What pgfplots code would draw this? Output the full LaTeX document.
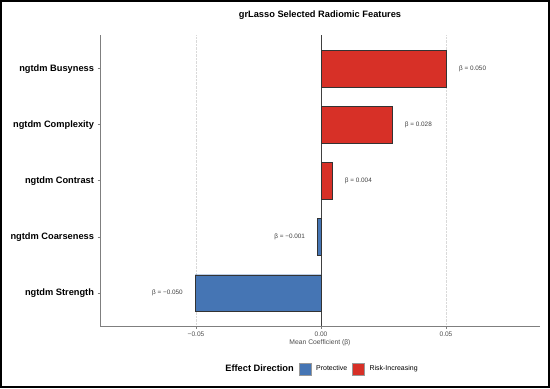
\documentclass[border=0pt]{standalone}
\usepackage{fontspec}
\setmainfont{Liberation Sans}
\usepackage{pgfplots}
\pgfplotsset{compat=1.18}
\definecolor{riskred}{HTML}{D73027}
\definecolor{protblue}{HTML}{4575B4}
\definecolor{axgray}{HTML}{7F7F7F}
\definecolor{txtgray}{HTML}{4D4D4D}
\begin{document}
\begin{tikzpicture}[x=1bp,y=1bp]
\useasboundingbox (0,0) rectangle (550,388);
\draw[line width=1.6bp] (0.8,0.8) rectangle (549.2,387.2);
\node[font=\fontsize{9.3}{10}\selectfont\bfseries] at (320,373) {grLasso Selected Radiomic Features};
\begin{axis}[
  at={(100bp,62bp)}, anchor=south west,
  scale only axis, width=440bp, height=291bp,
  xmin=-0.0884, xmax=0.0876,
  ymin=-0.59, ymax=4.6,
  axis x line*=bottom, axis y line*=left,
  axis line style={axgray, line width=0.8bp, -},
  scaled x ticks=false,
  xtick={-0.05,0,0.05},
  xticklabels={−0.05,0.00,0.05},
  ytick={0,1,2,3,4},
  yticklabels={ngtdm Strength,ngtdm Coarseness,ngtdm Contrast,ngtdm Complexity,ngtdm Busyness},
  xticklabel style={font=\fontsize{6.6}{7}\selectfont, text=txtgray},
  yticklabel style={font=\fontsize{9.3}{10}\selectfont\bfseries, text=black},
  tick align=outside, major tick length=2.5bp,
  tick style={axgray, line width=0.6bp},
  xmajorgrids, grid style={densely dotted, black!15, line width=0.5bp},
  xlabel={Mean Coefficient (β)},
  xlabel style={font=\fontsize{6.8}{7}\selectfont, text=txtgray, yshift=4bp},
  xbar, bar width=0.65, bar shift=0pt,
  legend columns=-1,
  legend style={draw=none, at={(0.5,-0.148)}, anchor=center,
    font=\fontsize{7}{8}\selectfont,
    /tikz/every even column/.append style={column sep=3bp},
    /tikz/every odd column/.append style={column sep=3bp}},
  legend cell align=left,
]
\addlegendimage{empty legend}
\addlegendentry{\fontsize{9.3}{10}\selectfont\bfseries Effect Direction}
\draw[black!75, line width=0.6bp] (axis cs:0,-0.59) -- (axis cs:0,4.6);
\addplot[fill=protblue, draw=black!80, line width=0.4bp,
  legend image code/.code={\draw[fill=protblue, draw=black!40] (0bp,-6bp) rectangle (12bp,6bp);},
  nodes near coords, point meta=explicit symbolic,
  every node near coord/.style={anchor=east, xshift=-12bp, inner sep=0pt, font=\fontsize{6.4}{7}\selectfont, text=black!75}]
  coordinates {(-0.0015,1) [β = −0.001] (-0.0504,0) [β = −0.050]};
\addlegendentry{Protective}
\addplot[fill=riskred, draw=black!80, line width=0.4bp,
  legend image code/.code={\draw[fill=riskred, draw=black!40] (0bp,-6bp) rectangle (12bp,6bp);},
  nodes near coords, point meta=explicit symbolic,
  every node near coord/.style={anchor=west, xshift=13bp, inner sep=0pt, font=\fontsize{6.4}{7}\selectfont, text=black!75}]
  coordinates {(0.050,4) [β = 0.050] (0.0283,3) [β = 0.028] (0.0043,2) [β = 0.004]};
\addlegendentry{Risk-Increasing}
\end{axis}
\end{tikzpicture}
\end{document}
